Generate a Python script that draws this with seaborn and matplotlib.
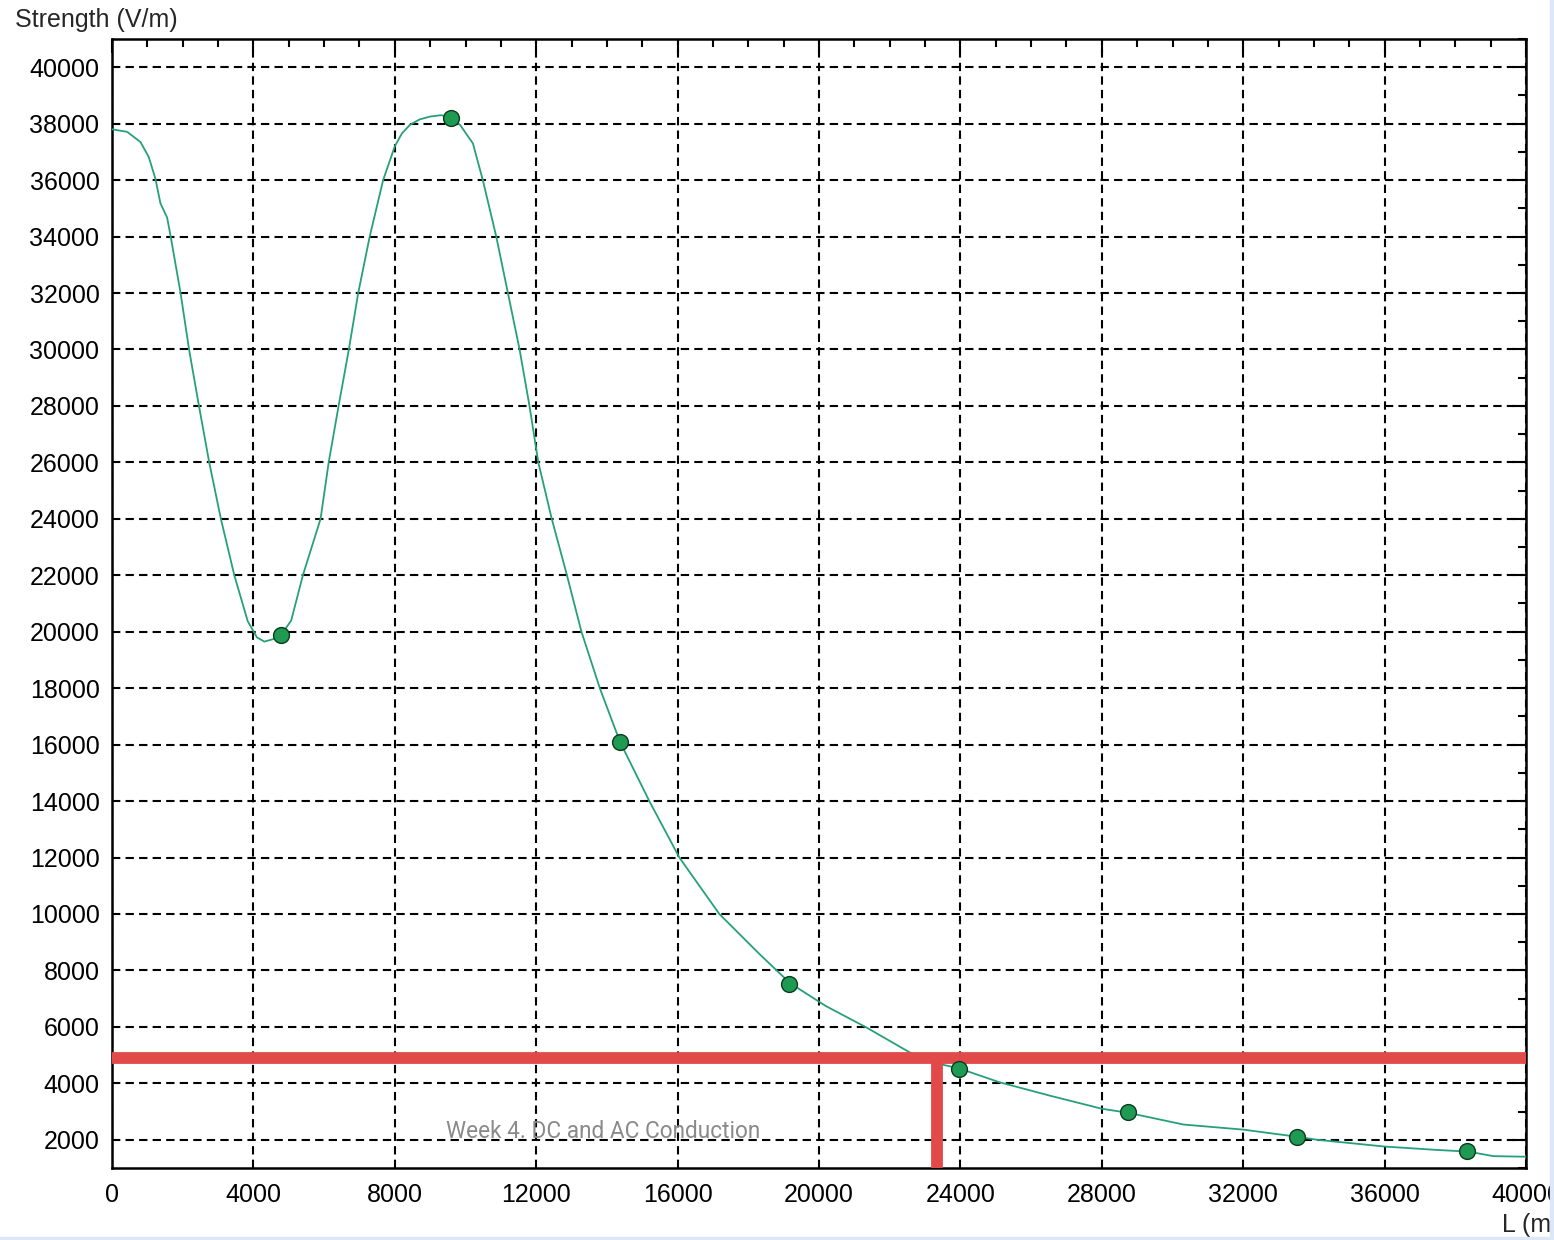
import numpy as np
import pandas as pd
import matplotlib
matplotlib.use("Agg")
import matplotlib.pyplot as plt
from matplotlib.patches import Rectangle
from matplotlib.ticker import MultipleLocator
import seaborn as sns

# curve (L in m, strength in V/m)
curve_L = [0, 430, 805, 1040, 1230, 1370, 1560, 1660, 1940, 2180, 2460, 2750, 3080, 3460,
           3840, 4100, 4310, 4740, 5070, 5400, 5900, 6130, 6410, 6700, 6965, 7290, 7670,
           8000, 8200, 8420, 8700, 8990, 9300, 9560, 9850, 10210, 10490, 10870, 11200, 11530,
           11810, 12060, 12440, 12870, 13280, 13800, 14370, 15200, 16050, 17180, 18300,
           19180, 20190, 21340, 22560, 23430, 23960, 25100, 26540, 28000, 28770, 30310,
           32000, 33570, 34090, 36000, 37480, 38370, 39080, 40000]
curve_E = [37800, 37710, 37350, 36820, 36040, 35180, 34670, 34000, 32000, 30000, 28000,
           26000, 24000, 22000, 20370, 19800, 19650, 19800, 20400, 22000, 24000, 26000,
           28000, 30000, 32000, 34000, 36000, 37200, 37650, 37950, 38150, 38250, 38300,
           38250, 37950, 37300, 36000, 34000, 32000, 30000, 28000, 26000, 24000, 22000,
           20000, 18000, 16100, 14000, 12000, 10000, 8600, 7550, 6740, 5980, 5100, 4680,
           4530, 4040, 3560, 3100, 2950, 2540, 2360, 2100, 2000, 1760, 1640, 1580, 1420,
           1400]

# measured points
point_L = [4790, 9580, 14370, 19160, 23950, 28740, 33530, 38320]
point_E = [19880, 38200, 16100, 7520, 4500, 2970, 2110, 1590]

# limit line and crossing
limit_E = 4900
cross_L = 23330

y_ticks = list(range(2000, 40001, 2000))
x_ticks = list(range(0, 40001, 4000))

sns.set_style("white")
plt.rcParams['font.family'] = ['Liberation Sans', 'DejaVu Sans']

fig = plt.figure(figsize=(15.54, 12.40), dpi=100)
ax = fig.add_axes([112 / 1554, 1 - 1168 / 1240, (1526 - 112) / 1554, (1168 - 39) / 1240])

df_curve = pd.DataFrame({"L": curve_L, "E": curve_E})
df_pts = pd.DataFrame({"L": point_L, "E": point_E})

sns.lineplot(data=df_curve, x="L", y="E", ax=ax, estimator=None, color="#26a07a",
             linewidth=1.3, zorder=3)

# red limit line + drop line
ax.axhline(limit_E, color="#e24a4a", linewidth=8.5, zorder=4, solid_capstyle="butt")
ax.plot([cross_L, cross_L], [1000, limit_E], color="#e24a4a", linewidth=8.5, zorder=4,
        solid_capstyle="butt")

sns.scatterplot(data=df_pts, x="L", y="E", ax=ax, s=130, color="#1f9a52",
                edgecolor="#0c3a1e", linewidth=1.0, zorder=5)

ax.set_xlim(0, 40000)
ax.set_ylim(1000, 41000)
ax.set_xticks(x_ticks)
ax.set_yticks(y_ticks)
ax.xaxis.set_minor_locator(MultipleLocator(1000))
ax.yaxis.set_minor_locator(MultipleLocator(1000))
ax.set_xticklabels([str(v) for v in x_ticks])
ax.set_yticklabels([str(v) for v in y_ticks])
ax.tick_params(which="both", direction="in", top=True, right=True, width=1.5,
               colors="black", labelsize=18)
ax.tick_params(which="major", length=10)
ax.tick_params(which="minor", length=6)
ax.tick_params(axis="y", which="major", pad=9)
ax.tick_params(axis="x", which="major", pad=11)
ax.set_xlabel("")
ax.set_ylabel("")

ax.grid(True, which="major", color="black", linestyle=(0, (4, 2.5)), linewidth=1.5)
ax.set_axisbelow(True)
for s in ax.spines.values():
    s.set_linewidth(1.8)
    s.set_color("black")

fig.text(15 / 1554, 1 - 20 / 1240, "Strength (V/m)", fontsize=18, ha="left", va="center")
fig.text(1502 / 1554, 1 - 1225 / 1240, "L (m)", fontsize=18, ha="left", va="center")

ax.text(0.236, 0.027, "Week 4. DC and AC Conduction", transform=ax.transAxes,
        fontsize=16.3, color="#8a8a8a", family=["Roboto", "DejaVu Sans"], zorder=6)

# light blue window frame on right / bottom edge
fig.add_artist(Rectangle((1550 / 1554, 0), 4 / 1554, 1, transform=fig.transFigure,
                         color="#dce8f8", zorder=20))
fig.add_artist(Rectangle((0, 0), 1, 3 / 1240, transform=fig.transFigure,
                         color="#dce8f8", zorder=20))

fig.savefig("out.png", dpi=100)
